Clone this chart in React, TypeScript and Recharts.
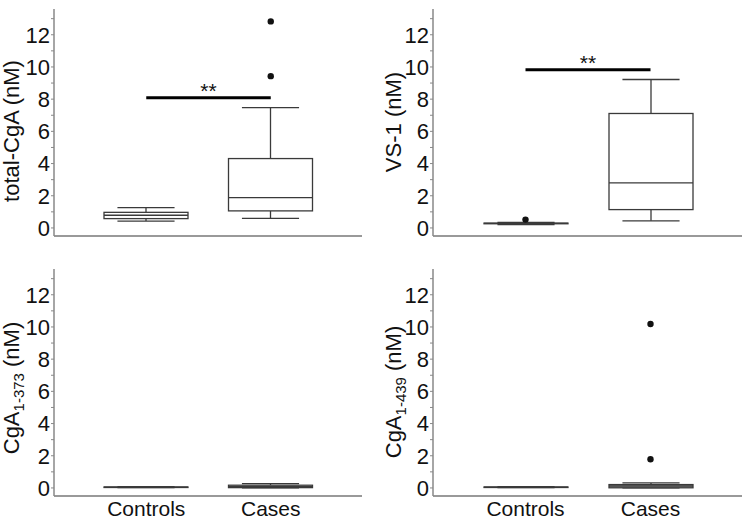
import React from "react";
import { ComposedChart, Bar, Line, XAxis, YAxis, ReferenceLine } from "recharts";

const categories = ["Controls", "Cases"];
const yTicks = [0, 1, 2, 3, 4, 5, 6, 7, 8, 9, 10, 11, 12, 13];

// total-CgA (nM)
const totalMin = [0.43, 0.6];
const totalQ1 = [0.58, 1.06];
const totalMed = [0.79, 1.88];
const totalQ3 = [0.97, 4.31];
const totalMax = [1.26, 7.48];
const totalOut1 = [null, 9.43];
const totalOut2 = [null, 12.83];

// VS-1 (nM)
const vsMin = [0.21, 0.44];
const vsQ1 = [0.26, 1.14];
const vsMed = [0.28, 2.8];
const vsQ3 = [0.3, 7.11];
const vsMax = [0.34, 9.22];
const vsOut1 = [0.52, null];
const vsOut2 = [null, null];

// CgA 1-373 (nM)
const c373Min = [0.02, 0.01];
const c373Q1 = [0.04, 0.02];
const c373Med = [0.05, 0.08];
const c373Q3 = [0.06, 0.17];
const c373Max = [0.08, 0.27];
const c373Out1 = [null, null];
const c373Out2 = [null, null];

// CgA 1-439 (nM)
const c439Min = [0.02, 0.0];
const c439Q1 = [0.04, 0.01];
const c439Med = [0.05, 0.12];
const c439Q3 = [0.06, 0.21];
const c439Max = [0.08, 0.31];
const c439Out1 = [null, 1.78];
const c439Out2 = [null, 10.18];

// significance bars
const totalSig = 8.08;
const vsSig = 9.83;

type Num = number | null;

function buildRows(min: number[], q1: number[], med: number[], q3: number[], max: number[], out1: Num[], out2: Num[], fills: string[]) {
  return categories.map((name, i) => ({
    name,
    min: min[i],
    q1: q1[i],
    med: med[i],
    q3: q3[i],
    max: max[i],
    out1: out1[i],
    out2: out2[i],
    fill: fills[i],
  }));
}

const totalRows = buildRows(totalMin, totalQ1, totalMed, totalQ3, totalMax, totalOut1, totalOut2, ["#fff", "#fff"]);
const vsRows = buildRows(vsMin, vsQ1, vsMed, vsQ3, vsMax, vsOut1, vsOut2, ["#fff", "#fff"]);
const c373Rows = buildRows(c373Min, c373Q1, c373Med, c373Q3, c373Max, c373Out1, c373Out2, ["#fff", "#fff"]);
const c439Rows = buildRows(c439Min, c439Q1, c439Med, c439Q3, c439Max, c439Out1, c439Out2, ["#fff", "#a8a8a8"]);

const FONT = "'Liberation Sans', Arial, sans-serif";
const BOX = "#3a3a3a";

// box + whiskers, positions interpolated inside the [min,max] bar recharts gives us
const BoxShape = (p: any) => {
  const { x, y, width, height, payload } = p;
  const top = height < 0 ? y + height : y;
  const h = Math.abs(height);
  const span = payload.max - payload.min;
  const py = (v: number) => (span > 0 ? top + (h * (payload.max - v)) / span : top);
  const cx = x + width / 2;
  const half = width * 0.34;
  const yMax = py(payload.max), yQ3 = py(payload.q3), yMed = py(payload.med), yQ1 = py(payload.q1), yMin = py(payload.min);
  return (
    <g stroke={BOX} strokeWidth={1.3}>
      <line x1={cx} x2={cx} y1={yMax} y2={yQ3} />
      <line x1={cx} x2={cx} y1={yQ1} y2={yMin} />
      <line x1={cx - half} x2={cx + half} y1={yMax} y2={yMax} />
      <line x1={cx - half} x2={cx + half} y1={yMin} y2={yMin} />
      <rect x={x} y={yQ3} width={width} height={Math.max(yQ1 - yQ3, 0.5)} fill={payload.fill} />
      <line x1={x} x2={x + width} y1={yMed} y2={yMed} />
    </g>
  );
};

const renderOutlier = (p: any) => {
  const key = `${p.dataKey}-${p.index}`;
  if (p.value == null || p.cy == null || Number.isNaN(p.cy)) return <g key={key} />;
  return <circle key={key} cx={p.cx} cy={p.cy} r={3.2} fill="#111" stroke="none" />;
};

const AxisTitle = ({ cx, cy, main, sub }: { cx: number; cy: number; main: string; sub?: string }) => (
  <text
    x={cx}
    y={cy}
    transform={`rotate(-90, ${cx}, ${cy})`}
    textAnchor="middle"
    dy="0.35em"
    fontSize={22}
    fill="#111"
    fontFamily={FONT}
  >
    {main}
    {sub ? (
      <tspan fontSize={15} dy={5}>
        {sub}
      </tspan>
    ) : null}
    <tspan dy={sub ? -5 : 0}> (nM)</tspan>
  </text>
);

interface PanelProps {
  rows: ReturnType<typeof buildRows>;
  left: number;
  top: number;
  width: number;
  height: number;
  axisWidth: number;
  rightMargin: number;
  xAxisHeight: number;
  showXTicks: boolean;
  sig?: number;
  title: React.ReactElement;
}

function Panel({ rows, left, top, width, height, axisWidth, rightMargin, xAxisHeight, showXTicks, sig, title }: PanelProps) {
  return (
    <div style={{ position: "absolute", left, top }}>
      <ComposedChart width={width} height={height} data={rows} margin={{ top: 9, right: rightMargin, left: 0, bottom: 0 }}>
        <XAxis
          dataKey="name"
          type="category"
          padding={{ left: 30, right: 29 }}
          height={xAxisHeight}
          axisLine={{ stroke: "#999", strokeWidth: 2 }}
          tickLine={false}
          tickSize={0}
          tickMargin={5}
          tick={showXTicks ? { fontSize: 21, fill: "#111", fontFamily: FONT } : false}
        />
        <YAxis
          type="number"
          domain={[-0.5, 13.6]}
          allowDataOverflow
          ticks={yTicks}
          interval={0}
          width={axisWidth}
          axisLine={{ stroke: "#888", strokeWidth: 1.5 }}
          tickLine={{ stroke: "#888" }}
          tickSize={3}
          tickMargin={1}
          tickFormatter={(v: number) => (v % 2 === 0 ? String(v) : "")}
          tick={{ fontSize: 22, fill: "#111", fontFamily: FONT }}
          label={title}
        />
        <Bar dataKey={(d: any) => [d.min, d.max]} barSize={84} shape={BoxShape} isAnimationActive={false} />
        <Line dataKey="out1" stroke="none" dot={renderOutlier} activeDot={false} isAnimationActive={false} />
        <Line dataKey="out2" stroke="none" dot={renderOutlier} activeDot={false} isAnimationActive={false} />
        {sig != null ? (
          <ReferenceLine
            segment={[
              { x: "Controls", y: sig },
              { x: "Cases", y: sig },
            ]}
            stroke="#000"
            strokeWidth={3}
            ifOverflow="visible"
            label={{ value: "**", position: "top", offset: 0, fontSize: 21, fill: "#111", fontFamily: FONT }}
          />
        ) : null}
      </ComposedChart>
    </div>
  );
}

export default function App() {
  return (
    <div style={{ position: "absolute", left: 0, top: 0, width: 751, height: 521, background: "#fff", fontFamily: FONT }}>
      <Panel
        rows={totalRows}
        left={0}
        top={0}
        width={375}
        height={260}
        axisWidth={54}
        rightMargin={13}
        xAxisHeight={24}
        showXTicks={false}
        sig={totalSig}
        title={<AxisTitle cx={11} cy={131} main="total-CgA" />}
      />
      <Panel
        rows={vsRows}
        left={375}
        top={0}
        width={376}
        height={260}
        axisWidth={58}
        rightMargin={9}
        xAxisHeight={24}
        showXTicks={false}
        sig={vsSig}
        title={<AxisTitle cx={18} cy={122} main="VS-1" />}
      />
      <Panel
        rows={c373Rows}
        left={0}
        top={260}
        width={375}
        height={261}
        axisWidth={54}
        rightMargin={13}
        xAxisHeight={25}
        showXTicks={true}
        title={<AxisTitle cx={11} cy={128} main="CgA" sub="1-373" />}
      />
      <Panel
        rows={c439Rows}
        left={375}
        top={260}
        width={376}
        height={261}
        axisWidth={58}
        rightMargin={9}
        xAxisHeight={25}
        showXTicks={true}
        title={<AxisTitle cx={18} cy={132} main="CgA" sub="1-439" />}
      />
    </div>
  );
}
